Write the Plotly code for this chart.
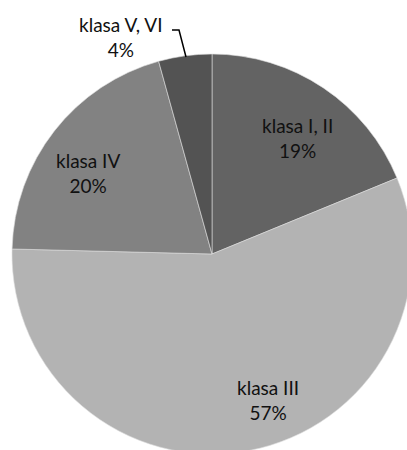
import plotly.graph_objects as go

categories = ["klasa I, II", "klasa III", "klasa IV", "klasa V, VI"]
values = [18.8, 56.6, 20.3, 4.3]
colors = ["#636363", "#b3b3b3", "#828282", "#535353"]

W, H = 412, 454
total = sum(values)
pct_text = [f"{c}<br>{round(v / total * 100)}%" for c, v in zip(categories, values)]

# label block centres in pixels
label_px = [(297, 138), (268, 400), (88, 173), (121, 37)]

fig = go.Figure(go.Pie(
    labels=categories,
    values=values,
    sort=False,
    direction="clockwise",
    rotation=0,
    marker=dict(colors=colors, line=dict(color="#dddddd", width=0.6)),
    textinfo="none",
    hoverinfo="skip",
    showlegend=False,
    domain=dict(x=[12 / W, 1.0], y=[0.0, 400 / H]),
))

for t, (px, py) in zip(pct_text, label_px):
    fig.add_annotation(
        x=px / W, y=1 - py / H, xref="paper", yref="paper",
        text=t, showarrow=False, xanchor="center", yanchor="middle",
        font=dict(family="Lato, Open Sans, sans-serif", size=19, color="#111111"),
        align="center",
    )

# leader line for the small slice label
pts = [(172, 30), (179, 30), (186, 57)]
path = "M " + " L ".join(f"{x / W} {1 - y / H}" for x, y in pts)
fig.add_shape(type="path", path=path, xref="paper", yref="paper",
              line=dict(color="#000000", width=1.5))

fig.update_layout(
    width=W, height=H,
    margin=dict(l=0, r=0, t=0, b=0),
    paper_bgcolor="#ffffff",
    plot_bgcolor="#ffffff",
)

fig.write_html(
    "out.html",
    config={"displayModeBar": False},
    post_script="document.body.style.margin='0';document.body.style.overflow='hidden';document.documentElement.style.overflow='hidden';",
)
